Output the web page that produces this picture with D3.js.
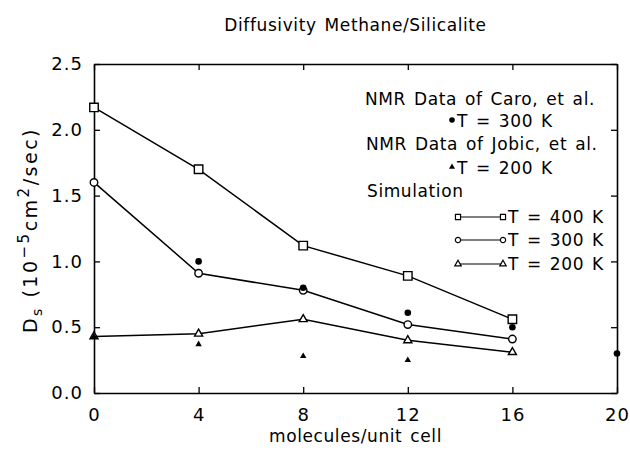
<!DOCTYPE html>
<html lang="en">
<head>
    <meta charset="UTF-8">
    <title>Diffusivity Methane/Silicalite</title>
    <script src="https://d3js.org/d3.v7.min.js"></script>
    <style>
        body { margin: 0; background: #fff; }
        svg { display: block; font-family: "DejaVu Sans", sans-serif; }
        .wide { letter-spacing: 0.6px; word-spacing: 2px; }
    </style>
</head>
<body>
    <div id="chart"></div>
    <script>
        // simulation loadings and values
        const simLoad = [0, 4, 8, 12, 16];
        const sim400 = [2.17, 1.70, 1.12, 0.89, 0.56];
        const sim300 = [1.60, 0.91, 0.78, 0.52, 0.41];
        const sim200 = [0.43, 0.45, 0.56, 0.40, 0.31];

        // NMR data
        const caroLoad = [4, 8, 12, 16, 20];
        const caro300 = [1.00, 0.80, 0.61, 0.50, 0.30];
        const jobicLoad = [0, 4, 8, 12];
        const jobic200 = [0.43, 0.37, 0.28, 0.25];

        const xTicks = [0, 4, 8, 12, 16, 20];
        const yTicks = [0, 0.5, 1.0, 1.5, 2.0, 2.5];

        const W = 630, H = 451;
        const margin = { top: 64, right: 13, bottom: 58, left: 94 };
        const width = W - margin.left - margin.right;
        const height = H - margin.top - margin.bottom;

        const svg = d3.select("#chart").append("svg")
            .attr("width", W).attr("height", H);
        const g = svg.append("g")
            .attr("transform", `translate(${margin.left},${margin.top})`);

        const x = d3.scaleLinear().domain([0, 20]).range([0, width]);
        const y = d3.scaleLinear().domain([0, 2.5]).range([height, 0]);

        // axes, ticks point inward
        const axBottom = g.append("g").attr("transform", `translate(0,${height})`)
            .call(d3.axisBottom(x).tickValues(xTicks).tickSize(-6).tickSizeOuter(0).tickPadding(15));
        const axTop = g.append("g")
            .call(d3.axisTop(x).tickValues(xTicks).tickSize(-6).tickSizeOuter(0).tickFormat(""));
        const axLeft = g.append("g")
            .call(d3.axisLeft(y).tickValues(yTicks).tickSize(-6).tickSizeOuter(0).tickPadding(11)
                .tickFormat(d3.format(".1f")));
        const axRight = g.append("g").attr("transform", `translate(${width},0)`)
            .call(d3.axisRight(y).tickValues(yTicks).tickSize(-6).tickSizeOuter(0).tickFormat(""));

        [axBottom, axTop, axLeft, axRight].forEach(a => {
            a.select(".domain").attr("stroke", "#000").attr("stroke-width", 1.6);
            a.selectAll(".tick line").attr("stroke", "#000").attr("stroke-width", 1.3);
            a.selectAll("text").attr("font-size", 18).attr("fill", "#000")
                .attr("font-family", "DejaVu Sans, sans-serif")
                .style("letter-spacing", "1px");
        });

        const line = d3.line().x(d => x(d[0])).y(d => y(d[1]));
        const sims = [
            { vals: sim400, sym: d3.symbolSquare, size: 72 },
            { vals: sim300, sym: d3.symbolCircle, size: 44 },
            { vals: sim200, sym: d3.symbolTriangle, size: 28 }
        ];

        sims.forEach(s => {
            const pts = simLoad.map((v, i) => [v, s.vals[i]]);
            g.append("path").datum(pts).attr("d", line)
                .attr("fill", "none").attr("stroke", "#000").attr("stroke-width", 1.5);
        });
        sims.forEach(s => {
            const pts = simLoad.map((v, i) => [v, s.vals[i]]);
            g.selectAll(null).data(pts).enter().append("path")
                .attr("d", d3.symbol().type(s.sym).size(s.size))
                .attr("transform", d => `translate(${x(d[0])},${y(d[1])})`)
                .attr("fill", "#fff").attr("stroke", "#000").attr("stroke-width", 1.4);
        });

        g.selectAll(".caro").data(caroLoad.map((v, i) => [v, caro300[i]])).enter().append("circle")
            .attr("cx", d => x(d[0])).attr("cy", d => y(d[1])).attr("r", 3.3).attr("fill", "#000");
        g.selectAll(".jobic").data(jobicLoad.map((v, i) => [v, jobic200[i]])).enter().append("path")
            .attr("d", d3.symbol().type(d3.symbolTriangle).size(18))
            .attr("transform", d => `translate(${x(d[0])},${y(d[1])})`).attr("fill", "#000");

        // titles
        svg.append("text").attr("class", "wide").attr("x", margin.left + width / 2).attr("y", 31)
            .attr("text-anchor", "middle").attr("font-size", 17).text("Diffusivity Methane/Silicalite");
        svg.append("text").attr("class", "wide").attr("x", margin.left + width / 2).attr("y", 442)
            .attr("text-anchor", "middle").attr("font-size", 17).text("molecules/unit cell");

        const yl = svg.append("text")
            .attr("transform", `translate(37,230) rotate(-90)`)
            .attr("text-anchor", "middle").attr("font-size", 19)
            .style("letter-spacing", "2.5px");
        yl.append("tspan").text("D");
        yl.append("tspan").attr("font-size", 14).attr("dy", 5).text("s");
        yl.append("tspan").attr("dy", -5).text(" (10");
        yl.append("tspan").attr("font-size", 15).attr("dy", -8).text("\u22125");
        yl.append("tspan").attr("dy", 8).text("cm");
        yl.append("tspan").attr("font-size", 15).attr("dy", -8).text("2");
        yl.append("tspan").attr("dy", 8).text("/sec)");

        // legend
        const lg = svg.append("g").attr("font-size", 17).attr("class", "wide");
        const textRow = (tx, ty, s) => lg.append("text").attr("x", tx).attr("y", ty).text(s);
        textRow(365, 105, "NMR Data of Caro, et al.");
        lg.append("circle").attr("cx", 452).attr("cy", 120).attr("r", 2.8).attr("fill", "#000");
        textRow(457, 127, "T = 300 K");
        textRow(366, 150, "NMR Data of Jobic, et al.");
        lg.append("path").attr("d", d3.symbol().type(d3.symbolTriangle).size(16))
            .attr("transform", "translate(452,167)").attr("fill", "#000");
        textRow(457, 174, "T = 200 K");
        textRow(367, 197, "Simulation");

        const legRows = [
            { sym: d3.symbolSquare, size: 26, ty: 223, label: "T = 400 K" },
            { sym: d3.symbolCircle, size: 22, ty: 246, label: "T = 300 K" },
            { sym: d3.symbolTriangle, size: 18, ty: 270, label: "T = 200 K" }
        ];
        legRows.forEach(r => {
            const cy = r.ty - 6;
            lg.append("line").attr("x1", 458).attr("x2", 503).attr("y1", cy).attr("y2", cy)
                .attr("stroke", "#000").attr("stroke-width", 1.1);
            [458, 503].forEach(cx => lg.append("path")
                .attr("d", d3.symbol().type(r.sym).size(r.size))
                .attr("transform", `translate(${cx},${cy})`)
                .attr("fill", "#fff").attr("stroke", "#000").attr("stroke-width", 1.2));
            textRow(508, r.ty, r.label);
        });
    </script>
</body>
</html>
